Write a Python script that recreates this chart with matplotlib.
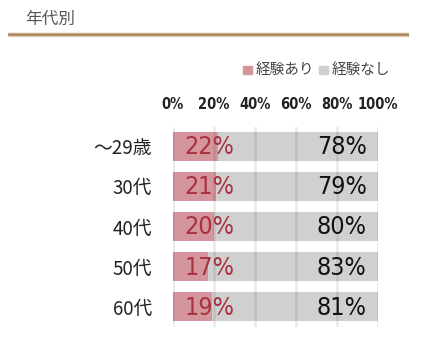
import matplotlib
matplotlib.use('Agg')
import matplotlib.pyplot as plt
from matplotlib.lines import Line2D
from matplotlib.patches import Rectangle

plt.rcParams['font.family'] = ['Noto Sans CJK JP', 'DejaVu Sans']

# data
ages = ['～29歳', '30代', '40代', '50代', '60代']
yes_pct = [22, 21, 20, 17, 19]
no_pct = [78, 79, 80, 83, 81]
ticks = [0, 20, 40, 60, 80, 100]
legend_labels = ['経験あり', '経験なし']

red = '#d4959c'
grey = '#d0d0d0'

W, H = 425, 341
fig = plt.figure(figsize=(W / 100, H / 100), dpi=100)

def fx(px):
    return px / W

def fy(py):
    return 1 - py / H

# header + brown rule
fig.text(fx(25), fy(19), '年代別', fontsize=12, color='#555555', va='center', ha='left')
for yy, c, lw in [(32.5, '#efe6da', 1.2), (33.8, '#c9ad8a', 1.4), (35.0, '#a5825a', 1.4), (36.2, '#dccbb5', 1.0)]:
    fig.add_artist(Line2D([fx(9), fx(408)], [fy(yy), fy(yy)], color=c, lw=lw))

ax = fig.add_axes([fx(173), fy(327), fx(378) - fx(173), fy(127) - fy(327)])
y = list(range(len(ages)))
ax.barh(y, yes_pct, height=0.72, color=red, zorder=2)
ax.barh(y, no_pct, left=yes_pct, height=0.72, color=grey, zorder=2)
for t in ticks:
    ax.axvline(t, color='black', alpha=0.07, lw=2.2, zorder=3)

for i in y:
    ax.text(5.5, i + 0.02, f'{yes_pct[i]}%', color='#a8323f', fontsize=18,
            family='DejaVu Sans', stretch='condensed', va='center', ha='left', zorder=4)
    ax.text(94.5, i + 0.02, f'{no_pct[i]}%', color='#111111', fontsize=18,
            family='DejaVu Sans', stretch='condensed', va='center', ha='right', zorder=4)

ax.set_xlim(0, 100)
ax.set_ylim(4.5, -0.475)
ax.set_yticks(y)
ax.set_yticklabels(ages, fontsize=13.5, color='#222222')
ax.tick_params(axis='y', length=0, pad=15)
ax.xaxis.tick_top()
ax.set_xticks(ticks)
ax.set_xticklabels([f'{t}%' for t in ticks], family='DejaVu Sans', stretch='condensed',
                   fontsize=10.5, fontweight='bold', color='#222222')
ax.tick_params(axis='x', length=0, pad=11)
for s in ax.spines.values():
    s.set_visible(False)

# legend
for xs, lab, c in [(243, legend_labels[0], red), (319, legend_labels[1], grey)]:
    fig.add_artist(Rectangle((fx(xs), fy(74)), fx(9), fy(66) - fy(74), color=c))
    fig.text(fx(xs + 13), fy(70), lab, fontsize=10.5, color='#444444', va='center', ha='left')

fig.savefig('out.png', dpi=100)
